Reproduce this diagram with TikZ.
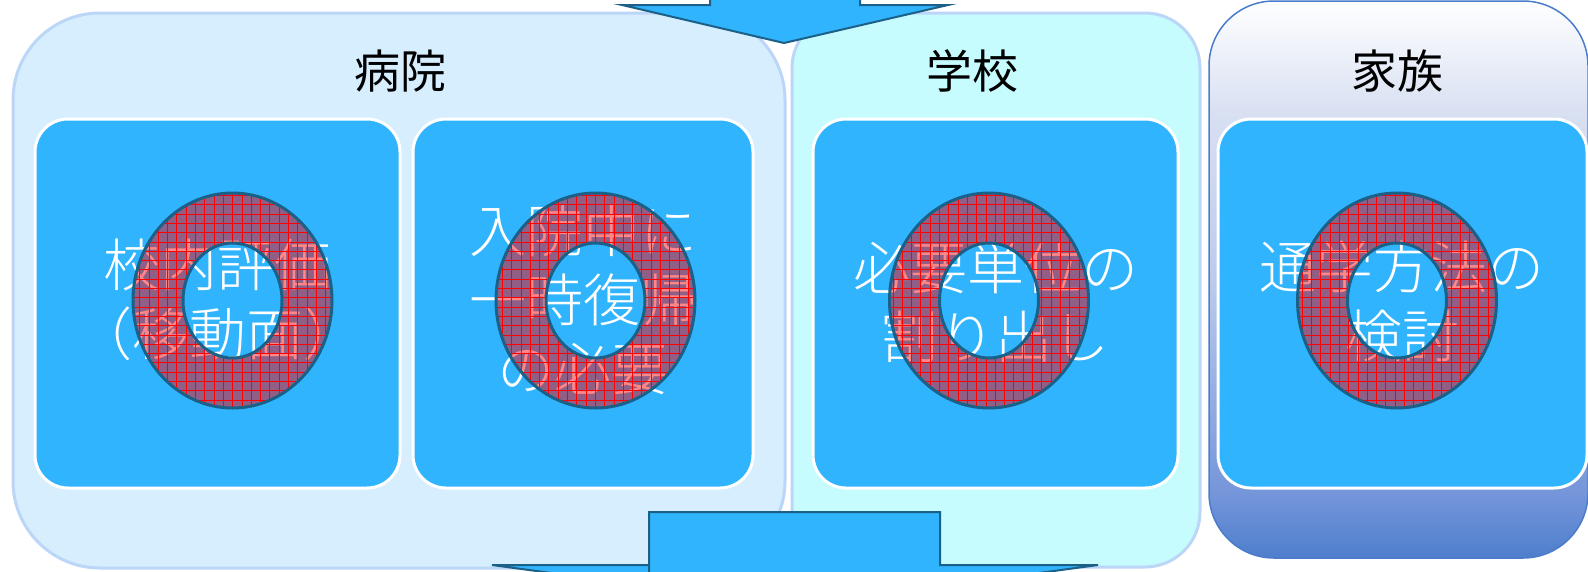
\documentclass[tikz,border=0pt]{standalone}
\usepackage{fontspec}
\newfontfamily\jp{Noto Sans CJK JP}
\IfFontExistsTF{Noto Sans CJK JP Light}{\newfontfamily\jplight{Noto Sans CJK JP Light}}{\newfontfamily\jplight{Noto Sans CJK JP}}
\definecolor{hospfill}{HTML}{D7EEFE}
\definecolor{hospline}{HTML}{BCD6F8}
\definecolor{schfill}{HTML}{C6FCFE}
\definecolor{innerblue}{HTML}{31B4FE}
\definecolor{darkedge}{HTML}{1B6087}
\definecolor{famline}{HTML}{4A7CCB}
\definecolor{famA}{HTML}{4E7ECD}
\definecolor{famB}{HTML}{7696DA}
\definecolor{famC}{HTML}{BCCAEC}
\definecolor{famD}{HTML}{D8E0F2}
\pgfdeclareverticalshading{famshade}{100bp}{color(0bp)=(famA); color(25bp)=(famA); color(31bp)=(famB); color(50bp)=(famC); color(65bp)=(famD); color(75bp)=(white); color(100bp)=(white)}
\tikzset{
  outerbox/.style={line width=3pt},
  innerbox/.style={fill=innerblue, draw=white, line width=3pt, rounded corners=33pt},
  boxtext/.style={text=white, align=center, inner sep=0pt, font=\jplight\fontsize{57}{69}\selectfont},
  titletext/.style={text=black, inner sep=0pt, font=\jp\fontsize{46}{50}\selectfont},
  blockarrow/.style={fill=innerblue, draw=darkedge, line width=2pt, line join=miter},
  ringline/.style={draw=darkedge, line width=3pt}
}
\newcommand\mydonut[2]{%
  \begin{scope}[even odd rule]
    \clip (#1,#2) ellipse[x radius=99.5pt, y radius=107.5pt]
          (#1,#2) ellipse[x radius=49.5pt, y radius=57.5pt];
    \fill[red, opacity=0.47] (#1-110,#2-120) rectangle (#1+110,#2+120);
    \draw[red, line width=0.5pt, step=9.3pt] (#1-110,#2-120) grid (#1+110,#2+120);
  \end{scope}
  \draw[ringline] (#1,#2) ellipse[x radius=99.5pt, y radius=107.5pt];
  \draw[ringline] (#1,#2) ellipse[x radius=49.5pt, y radius=57.5pt];
}
\begin{document}
\begin{tikzpicture}[x=1pt,y=-1pt]
\useasboundingbox (0,0) rectangle (1588,571);
\clip (0,0) rectangle (1588,571);
% outer groups
\draw[outerbox, fill=hospfill, draw=hospline, rounded corners=87pt] (13,13) rectangle (785,568);
\draw[outerbox, fill=schfill, draw=hospline, rounded corners=55pt] (792,13) rectangle (1200,567);
\draw[shading=famshade, draw=famline, line width=1.5pt, rounded corners=65pt] (1209,1) rectangle (1588,558);
% titles
\node[titletext] (th) at (400,71) {病院};
\node[titletext] (ts) at (972,71) {学校};
\node[titletext] (tf) at (1397,71) {家族};
% inner boxes
\draw[innerbox] (35,119) rectangle (400,488);
\draw[innerbox] (413,119) rectangle (753,488);
\draw[innerbox] (813,119) rectangle (1178,488);
\draw[innerbox] (1218,119) rectangle (1587,488);
% texts
\node[boxtext] (b1) at (217.5,300) {校内評価\\（移動面）};
\node[boxtext] (b2) at (583,300) {入院中に\\一時復帰\\の必要};
\node[boxtext] (b3) at (995.5,302) {必要単位の\\割り出し};
\node[boxtext] (b4) at (1402,301) {通学方法の\\検討};
% donuts
\mydonut{232.5}{300.5}
\mydonut{595.5}{300.5}
\mydonut{989}{300.5}
\mydonut{1397}{300.5}
% arrows
\draw[blockarrow] (710,-10) -- (710,5) -- (622,5) -- (784,43) -- (948,5) -- (860,5) -- (860,-10) -- cycle;
\draw[blockarrow] (649,590) -- (649,512) -- (940,512) -- (940,565) -- (1098,565) -- (795,606) -- (492,565) -- (649,565) -- cycle;
\end{tikzpicture}
\end{document}
